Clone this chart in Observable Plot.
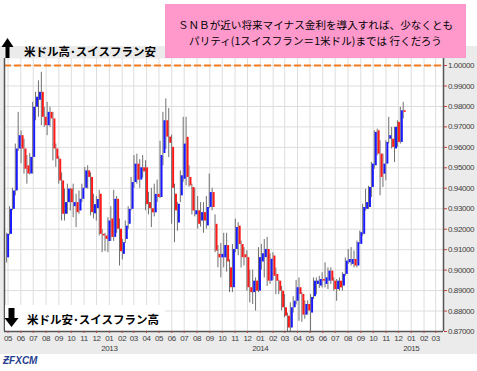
<!DOCTYPE html>
<html><head><meta charset="utf-8">
<script src="https://cdn.jsdelivr.net/npm/d3@7"></script>
<script src="https://cdn.jsdelivr.net/npm/@observablehq/plot@0.6"></script>
<style>
html,body{margin:0;padding:0;background:#fff;}
#wrap{position:relative;width:477px;height:371px;overflow:hidden;background:#fff;}
#band{position:absolute;left:0;top:46px;width:477px;height:308px;background:#ebebeb;}
#chart{position:absolute;left:0;top:0;}
#chart svg text{letter-spacing:-0.4px;}
.jp{font-family:"Noto Sans CJK JP",sans-serif;color:#000;position:absolute;white-space:nowrap;}
#note{position:absolute;left:165px;top:4px;width:301px;height:54px;background:#ff99cc;}
.nl{left:0;width:301px;text-align:center;font-size:10.6px;line-height:15px;}
.lab{font-size:11.5px;font-weight:bold;line-height:14px;}
#downbox{position:absolute;left:5px;top:305px;width:160px;height:25px;background:#fff;}
#logo{position:absolute;left:3px;top:355px;font-family:"Liberation Sans",Arial,sans-serif;font-weight:bold;font-style:italic;font-size:10px;color:#27408f;}
</style></head>
<body>
<div id="wrap">
  <div id="band"></div>
  <div id="chart"></div>
  <div id="downbox"></div>
  <svg style="position:absolute;left:0;top:36px" width="16" height="24"><polygon points="7.5,2 13.5,11 9.5,11 9.5,22 5.5,22 5.5,11 1.5,11" fill="#000"/></svg>
  <div class="jp lab" style="left:24px;top:44px;">米ドル高･スイスフラン安</div>
  <svg style="position:absolute;left:3px;top:306px" width="18" height="24"><polygon points="5.5,2 11.5,2 11.5,12 15.5,12 8.5,21 1.5,12 5.5,12" fill="#000"/></svg>
  <div class="jp lab" style="left:27px;top:312px;">米ドル安･スイスフラン高</div>
  <div id="note">
    <div class="jp nl" style="top:13px;">ＳＮＢが近い将来マイナス金利を導入すれば、少なくとも</div>
    <div class="jp nl" style="top:29px;">パリティ(1スイスフラン＝1米ドル)までは 行くだろう</div>
  </div>
  <div id="logo">ƵFXCM</div>
</div>
<script>
// weekly USD/CHF candles, first week starting 2012-04-30, last starting 2014-12-15
const firstWeek = "2012-04-30";
const lastWeek = "2014-12-15";
const open = [
0.9060,0.9175,0.9297,0.9387,0.9592,0.9657,0.9592,0.9510,0.9470,0.9551,
0.9796,0.9830,0.9869,0.9747,0.9706,0.9771,0.9739,0.9592,0.9542,0.9436,
0.9273,0.9330,0.9396,0.9310,0.9330,0.9289,0.9346,0.9400,0.9485,0.9453,
0.9275,0.9300,0.9371,0.9175,0.9167,0.9140,0.9250,0.9160,0.9346,0.9200,
0.9077,0.9150,0.9224,0.9297,0.9428,0.9518,0.9440,0.9500,0.9500,0.9330,
0.9300,0.9280,0.9370,0.9355,0.9570,0.9730,0.9650,0.9600,0.9371,0.9230,
0.9363,0.9444,0.9649,0.9453,0.9404,0.9270,0.9290,0.9240,0.9281,0.9216,
0.9306,0.9379,0.9224,0.9077,0.9060,0.9060,0.9120,0.9011,0.8914,0.9101,
0.9215,0.9125,0.9075,0.9061,0.8914,0.8890,0.8946,0.8897,0.9040,0.9061,
0.9101,0.8946,0.9069,0.8979,0.8946,0.8897,0.8816,0.8775,0.8717,0.8816,
0.8848,0.8914,0.8881,0.8780,0.8832,0.8790,0.8870,0.8930,0.8922,0.8954,
0.8930,0.8946,0.8995,0.8946,0.8905,0.8946,0.8922,0.8979,0.9036,0.9028,
0.9052,0.9020,0.9126,0.9175,0.9297,0.9306,0.9404,0.9510,0.9681,0.9567,
0.9469,0.9518,0.9640,0.9640,0.9592,0.9722,0.9624,0.9779];
const high = [
0.9180,0.9310,0.9400,0.9616,0.9771,0.9681,0.9640,0.9560,0.9570,0.9820,
0.9869,0.9925,0.9967,0.9796,0.9820,0.9796,0.9771,0.9616,0.9555,0.9475,
0.9396,0.9420,0.9400,0.9420,0.9371,0.9387,0.9420,0.9502,0.9510,0.9475,
0.9370,0.9360,0.9390,0.9199,0.9180,0.9256,0.9310,0.9390,0.9360,0.9250,
0.9150,0.9240,0.9310,0.9453,0.9560,0.9567,0.9540,0.9560,0.9535,0.9380,
0.9400,0.9420,0.9440,0.9630,0.9771,0.9837,0.9790,0.9660,0.9420,0.9330,
0.9485,0.9747,0.9747,0.9510,0.9420,0.9400,0.9360,0.9330,0.9330,0.9360,
0.9470,0.9400,0.9270,0.9120,0.9130,0.9180,0.9180,0.9050,0.9125,0.9249,
0.9232,0.9142,0.9110,0.9095,0.9000,0.9000,0.8962,0.9110,0.9126,0.9150,
0.9160,0.9080,0.9085,0.9010,0.8950,0.8920,0.8880,0.8790,0.8840,0.8870,
0.8950,0.8962,0.8890,0.8850,0.8850,0.8881,0.8962,0.8962,0.8970,0.8987,
0.9036,0.9011,0.9011,0.8962,0.8954,0.8962,0.8987,0.9060,0.9101,0.9110,
0.9093,0.9142,0.9191,0.9322,0.9395,0.9410,0.9526,0.9681,0.9689,0.9632,
0.9567,0.9632,0.9747,0.9698,0.9698,0.9730,0.9796,0.9820];
const low = [
0.9035,0.9170,0.9290,0.9363,0.9580,0.9520,0.9469,0.9420,0.9465,0.9469,
0.9730,0.9747,0.9706,0.9698,0.9657,0.9698,0.9534,0.9502,0.9420,0.9240,
0.9240,0.9273,0.9289,0.9256,0.9208,0.9273,0.9330,0.9396,0.9396,0.9265,
0.9250,0.9240,0.9167,0.9085,0.9090,0.9085,0.9140,0.9140,0.9180,0.9020,
0.9050,0.9130,0.9200,0.9290,0.9400,0.9420,0.9400,0.9450,0.9290,0.9270,
0.9208,0.9260,0.9330,0.9350,0.9510,0.9590,0.9550,0.9224,0.9134,0.9190,
0.9330,0.9430,0.9412,0.9405,0.9270,0.9260,0.9200,0.9210,0.9180,0.9200,
0.9300,0.9290,0.9085,0.9011,0.8962,0.9011,0.8990,0.8890,0.8890,0.9085,
0.9070,0.9010,0.9020,0.8897,0.8840,0.8832,0.8800,0.8890,0.9000,0.8962,
0.8920,0.8930,0.8950,0.8880,0.8880,0.8800,0.8767,0.8700,0.8695,0.8790,
0.8830,0.8750,0.8745,0.8760,0.8780,0.8693,0.8856,0.8880,0.8910,0.8913,
0.8913,0.8905,0.8930,0.8897,0.8848,0.8897,0.8897,0.8970,0.9028,0.9020,
0.9011,0.9011,0.9126,0.9167,0.9289,0.9297,0.9355,0.9493,0.9559,0.9363,
0.9404,0.9436,0.9616,0.9592,0.9526,0.9600,0.9616,0.9739];
const close = [
0.9175,0.9297,0.9387,0.9592,0.9657,0.9592,0.9493,0.9470,0.9551,0.9796,
0.9845,0.9869,0.9747,0.9706,0.9771,0.9739,0.9592,0.9542,0.9436,0.9273,
0.9330,0.9396,0.9330,0.9330,0.9281,0.9346,0.9400,0.9485,0.9453,0.9281,
0.9320,0.9345,0.9175,0.9167,0.9150,0.9240,0.9160,0.9346,0.9200,0.9090,
0.9134,0.9215,0.9297,0.9428,0.9518,0.9440,0.9500,0.9480,0.9320,0.9300,
0.9280,0.9370,0.9355,0.9560,0.9730,0.9650,0.9620,0.9400,0.9290,0.9322,
0.9461,0.9616,0.9453,0.9412,0.9289,0.9290,0.9224,0.9281,0.9240,0.9306,
0.9379,0.9306,0.9093,0.9060,0.9077,0.9120,0.9040,0.8914,0.9101,0.9208,
0.9125,0.9061,0.9060,0.8914,0.8890,0.8946,0.8897,0.9061,0.9080,0.9101,
0.8946,0.9053,0.8970,0.8946,0.8897,0.8816,0.8775,0.8717,0.8816,0.8848,
0.8914,0.8881,0.8780,0.8832,0.8800,0.8866,0.8946,0.8946,0.8954,0.8946,
0.8962,0.8995,0.8946,0.8905,0.8946,0.8913,0.8979,0.9044,0.9052,0.9052,
0.9020,0.9134,0.9183,0.9306,0.9330,0.9404,0.9518,0.9673,0.9567,0.9453,
0.9518,0.9624,0.9657,0.9600,0.9698,0.9624,0.9779,0.9771];

const yTicks = [0.87,0.88,0.89,0.90,0.91,0.92,0.93,0.94,0.95,0.96,0.97,0.98,0.99,1.00];
const parity = [1.00];
const monthTickRange = ["2012-05-01", "2015-03-01"];
const yearLabels = ["2013","2014","2015"];
const yearDates = ["2013-01-01","2014-01-01","2015-01-01"].map(s => new Date(s + "T00:00:00Z"));
const xDomain = [new Date("2012-04-22T12:00:00Z"), new Date("2015-03-20T00:00:00Z")];

const weeks = d3.utcMonday.range(new Date(firstWeek + "T00:00:00Z"), d3.utcDay.offset(new Date(lastWeek + "T00:00:00Z"), 1));
const n = Math.min(weeks.length, open.length, high.length, low.length, close.length);
const candles = d3.range(n).map(i => ({date: weeks[i], open: open[i], high: high[i], low: low[i], close: close[i]}));
const monthTicks = d3.utcMonth.range(new Date(monthTickRange[0] + "T00:00:00Z"), d3.utcDay.offset(new Date(monthTickRange[1] + "T00:00:00Z"), 1));

const chart = Plot.plot({
  width: 477, height: 371,
  marginTop: 58, marginBottom: 40, marginLeft: 4, marginRight: 34,
  style: {background: "transparent", fontFamily: '"Liberation Sans", Arial, sans-serif', fontSize: "8px", color: "#404040"},
  x: {type: "utc", domain: xDomain},
  y: {domain: [0.87, 1.00343]},
  marks: [
    Plot.frame({fill: "white", stroke: null}),
    Plot.gridX(monthTicks, {stroke: "#dedede", strokeOpacity: 1}),
    Plot.gridY(yTicks, {stroke: "#dedede", strokeOpacity: 1}),
    Plot.ruleY(parity, {stroke: "#f47b20", strokeWidth: 2, strokeDasharray: "7,3"}),
    Plot.ruleX(candles, {x: "date", y1: "low", y2: "high", stroke: "#707070", strokeWidth: 1, dx: -1}),
    Plot.ruleX(candles, {x: "date", y1: "open", y2: "close", stroke: d => d.close >= d.open ? "#1a1aff" : "#ff1a1a", strokeWidth: 2, dx: 0.5}),
    Plot.ruleX(xDomain, {stroke: "#555", strokeWidth: 1.5}),
    Plot.ruleY([0.87], {stroke: "#555", strokeWidth: 1.5}),
    Plot.axisY(yTicks, {anchor: "right", tickSize: 3, tickPadding: 1.5, tickFormat: d3.format(".5f"), stroke: "#c04040", fill: "#404040", fontSize: 8}),
    Plot.axisX(monthTicks, {anchor: "bottom", tickSize: 2, tickPadding: 2, tickFormat: d3.utcFormat("%m"), stroke: "#c04040", fill: "#404040", fontSize: 8}),
    Plot.text(yearDates, {x: d => d, text: (d, i) => yearLabels[i], frameAnchor: "bottom", dy: 19.5, fill: "#404040", fontSize: 8})
  ]
});
document.getElementById("chart").appendChild(chart);
</script>
</body></html>
